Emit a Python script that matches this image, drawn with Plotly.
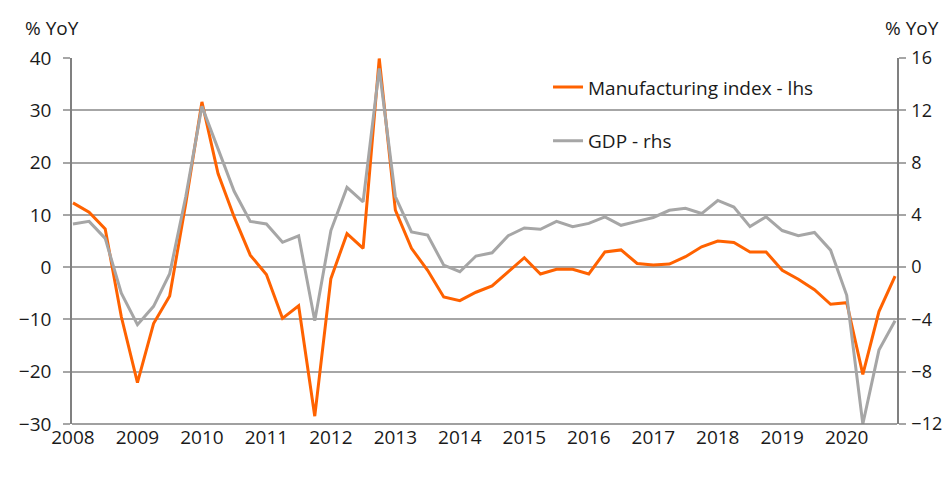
import plotly.graph_objects as go

# quarterly data, 2008Q1 .. 2020Q4
years = list(range(2008, 2021))
quarters = [y + q / 4 for y in years for q in range(4)]

manufacturing = [12.3, 10.5, 7.3, -9.5,
                 -22.1, -10.8, -5.5, 12.2,
                 31.6, 17.9, 9.6, 2.3,
                 -1.4, -9.8, -7.4, -28.5,
                 -2.2, 6.4, 3.6, 39.9,
                 10.9, 3.6, -0.6, -5.7,
                 -6.4, -4.8, -3.6, -0.9,
                 1.8, -1.3, -0.4, -0.4,
                 -1.3, 2.9, 3.3, 0.7,
                 0.4, 0.6, 2.0, 3.9,
                 5.0, 4.7, 2.9, 2.9,
                 -0.6, -2.3, -4.3, -7.1,
                 -6.8, -20.5, -8.5, -1.7]

gdp = [3.3, 3.5, 2.2, -2.0,
       -4.4, -3.0, -0.5, 5.4,
       12.3, 9.0, 5.8, 3.5,
       3.3, 1.9, 2.4, -4.1,
       2.8, 6.1, 5.0, 15.2,
       5.4, 2.7, 2.45, 0.15,
       -0.35, 0.85, 1.1, 2.4,
       3.0, 2.9, 3.5, 3.1,
       3.35, 3.85, 3.2, 3.5,
       3.8, 4.35, 4.5, 4.1,
       5.1, 4.6, 3.1, 3.85,
       2.8, 2.4, 2.65, 1.3,
       -2.15, -12.0, -6.35, -4.1]

left_ticks = list(range(-30, 41, 10))
right_ticks = list(range(-12, 17, 4))

ORANGE = '#FF6200'
GREY = '#A6A6A6'
AXIS = '#808080'
FONT = dict(family='Open Sans', size=19, color='#1a1a1a')

fig = go.Figure()

fig.add_trace(go.Scatter(x=quarters, y=manufacturing, mode='lines', name='Manufacturing index - lhs',
                         legendgroup='a', line=dict(color=ORANGE, width=3)))
fig.add_trace(go.Scatter(x=quarters, y=gdp, mode='lines', name='GDP - rhs', yaxis='y2',
                         legendgroup='b', line=dict(color=GREY, width=3)))

# page body has an 8px margin all round, so keep the figure inside the window
fig.update_layout(
    width=936, height=476,
    margin=dict(l=64, r=47, t=50, b=60),
    paper_bgcolor='white', plot_bgcolor='white',
    font=FONT,
    showlegend=True,
    legend=dict(x=0.577, y=0.972, xanchor='left', yanchor='top', bgcolor='rgba(0,0,0,0)',
                tracegroupgap=26, font=dict(size=19)),
    xaxis=dict(range=[2007.985, 2020.78], tickvals=years, ticktext=[str(y) for y in years],
               ticks='', showgrid=False, zeroline=False, showline=False, automargin=False),
    xaxis2=dict(overlaying='x', matches='x', anchor='free', position=30 / 70,
                tickvals=years, showticklabels=False, ticks='outside', ticklen=5,
                tickcolor=AXIS, tickwidth=1.5, showline=True, linecolor=AXIS, linewidth=1.5,
                showgrid=False, zeroline=False, automargin=False),
    yaxis=dict(range=[-30, 40], tickvals=left_ticks, showgrid=True, gridcolor=GREY, gridwidth=2,
               zeroline=False, showline=True, linecolor=AXIS, linewidth=1.5, automargin=False,
               ticks='outside', ticklen=7, tickcolor=GREY, tickwidth=2, ticklabelstandoff=8),
    yaxis2=dict(range=[-12, 16], tickvals=right_ticks, overlaying='y', side='right',
                showgrid=False, zeroline=False, showline=True, linecolor=AXIS, linewidth=1.5,
                automargin=False, ticks='outside', ticklen=7, tickcolor=GREY, tickwidth=2,
                ticklabelstandoff=2, tickfont=dict(size=18)),
)

# bottom frame line
fig.add_shape(type='line', xref='paper', yref='paper', x0=0, x1=1, y0=0, y1=0,
              line=dict(color=AXIS, width=1.5))

fig.add_annotation(text='% YoY', xref='paper', yref='paper', x=-0.059, y=1.082,
                   xanchor='left', yanchor='middle', showarrow=False, font=FONT)
fig.add_annotation(text='% YoY', xref='paper', yref='paper', x=1.053, y=1.082,
                   xanchor='right', yanchor='middle', showarrow=False, font=FONT)

fig.write_html("out.html")
